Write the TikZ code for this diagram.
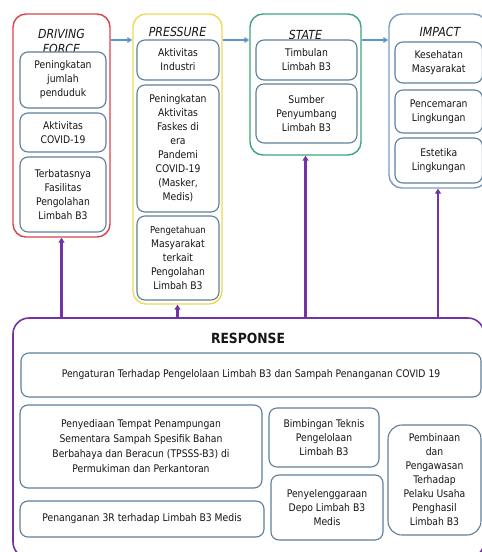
\documentclass[tikz,border=0pt]{standalone}
\usepackage{fontspec}
\setmainfont{DejaVu Sans}[FakeStretch=0.88]
\usetikzlibrary{arrows.meta}
\definecolor{ink}{HTML}{161616}
\definecolor{inline}{HTML}{5F7F99}
\definecolor{dfred}{HTML}{D9434B}
\definecolor{pryellow}{HTML}{EDD955}
\definecolor{stgreen}{HTML}{3FA57A}
\definecolor{imblue}{HTML}{7D9CC0}
\definecolor{respurple}{HTML}{7433A3}
\definecolor{flowblue}{HTML}{5B95CF}
\begin{document}
\begin{tikzpicture}[x=1pt,y=-1pt,
  txt/.style={font=\fontsize{10.5}{14}\selectfont, text=ink, align=center},
  inbox/.style={txt, draw=inline, line width=1.1pt, fill=white, rounded corners=8pt, inner sep=1pt},
  outbox/.style={line width=1.4pt, fill=white, rounded corners=13pt},
  titletxt/.style={font=\fontsize{12.5}{15}\selectfont\itshape, text=ink, align=center},
  flow/.style={draw=flowblue, line width=1.4pt, -{Triangle[length=5pt,width=5.5pt]}},
  back/.style={draw=respurple, line width=2.2pt, -{Triangle[length=5pt,width=6pt]}}]

\clip (0,0) rectangle (482,552);
\fill[white] (0,0) rectangle (482,552);

% outer category boxes
\node[outbox, draw=dfred, minimum width=97pt, minimum height=223pt] (dfo) at (61.5,125.5) {};
\node[outbox, draw=pryellow, minimum width=89pt, minimum height=290pt] (pro) at (177.5,159) {};
\node[outbox, draw=stgreen, minimum width=111pt, minimum height=141pt] (sto) at (305.5,84.5) {};
\node[outbox, draw=imblue, minimum width=98pt, minimum height=174pt] (imo) at (438,101) {};
\node[outbox, draw=respurple, line width=1.6pt, rounded corners=16pt, minimum width=471pt, minimum height=240pt] (resp) at (248.5,438) {};

% category titles
\node[titletxt] (dft) at (61.5,41) {DRIVING\\FORCE};
\node[titletxt] (prt) at (177.5,32) {PRESSURE};
\node[titletxt] (stt) at (305.5,35) {STATE};
\node[titletxt] (imt) at (440,32) {IMPACT};
\node[font=\fontsize{14}{16}\selectfont\bfseries, text=ink] (rst) at (248,338) {RESPONSE};

% driving force
\node[inbox, minimum width=86pt, minimum height=56pt] (df1) at (63,80) {Peningkatan\\jumlah\\penduduk};
\node[inbox, minimum width=86pt, minimum height=39pt] (df2) at (63,132.5) {Aktivitas\\COVID-19};
\node[inbox, minimum width=86pt, minimum height=75pt] (df3) at (63,194.5) {Terbatasnya\\Fasilitas\\Pengolahan\\Limbah B3};

% pressure
\node[inbox, minimum width=82pt, minimum height=40pt] (pr1) at (178,60) {Aktivitas\\Industri};
\node[inbox, minimum width=82pt, minimum height=127pt] (pr2) at (178,148.5) {Peningkatan\\Aktivitas\\Faskes di\\era\\Pandemi\\COVID-19\\(Masker,\\Medis)};
\node[inbox, minimum width=82pt, minimum height=84pt] (pr3) at (178,258) {{\fontsize{9.6}{13.8}\selectfont Pengetahuan}\\Masyarakat\\terkait\\Pengolahan\\Limbah B3};

% state
\node[inbox, minimum width=101pt, minimum height=40pt] (st1) at (306.5,60) {Timbulan\\Limbah B3};
\node[inbox, minimum width=101pt, minimum height=59pt] (st2) at (306.5,113.5) {Sumber\\Penyumbang\\Limbah B3};

% impact
\node[inbox, minimum width=87.5pt, minimum height=41pt] (im1) at (438.75,62.5) {Kesehatan\\Masyarakat};
\node[inbox, minimum width=87.5pt, minimum height=43pt] (im2) at (438.75,111.5) {Pencemaran\\Lingkungan};
\node[inbox, minimum width=87.5pt, minimum height=45pt] (im3) at (438.75,160.5) {Estetika\\Lingkungan};

% response
\node[inbox, minimum width=460pt, minimum height=44pt] (rs1) at (251,375) {Pengaturan Terhadap Pengelolaan Limbah B3 dan Sampah Penanganan COVID 19};
\node[inbox, minimum width=242pt, minimum height=83pt, font=\fontsize{10.5}{15}\selectfont] (rs2) at (141,446.5) {Penyediaan Tempat Penampungan\\Sementara Sampah Spesifik Bahan\\Berbahaya dan Beracun (TPSSS-B3) di\\Permukiman dan Perkantoran};
\node[inbox, minimum width=244pt, minimum height=36pt] (rs3) at (142,519) {Penanganan 3R terhadap Limbah B3 Medis};
\node[inbox, minimum width=110pt, minimum height=59pt] (rs4) at (324,437.5) {Bimbingan Teknis\\Pengelolaan\\Limbah B3};
\node[inbox, minimum width=112pt, minimum height=65pt] (rs5) at (327,507.5) {Penyelenggaraan\\Depo Limbah B3\\Medis};
\node[inbox, rounded corners=14pt, minimum width=93pt, minimum height=110pt] (rs6) at (434.5,480) {Pembinaan\\dan\\Pengawasan\\Terhadap\\Pelaku Usaha\\Penghasil\\Limbah B3};

% flow between categories
\coordinate (lvl) at (0,40);
\draw[flow] (dfo.east |- lvl) -- (pro.west |- lvl);
\draw[flow] (pro.east |- lvl) -- (sto.west |- lvl);
\draw[flow] (sto.east |- lvl) -- (imo.west |- lvl);

% response feeds back to every category
\draw[back] (dfo.south |- resp.north) -- (dfo.south);
\draw[back] (pro.south |- resp.north) -- (pro.south);
\draw[back] (sto.south |- resp.north) -- (sto.south);
\draw[back] (imo.south |- resp.north) -- (imo.south);
\end{tikzpicture}
\end{document}
